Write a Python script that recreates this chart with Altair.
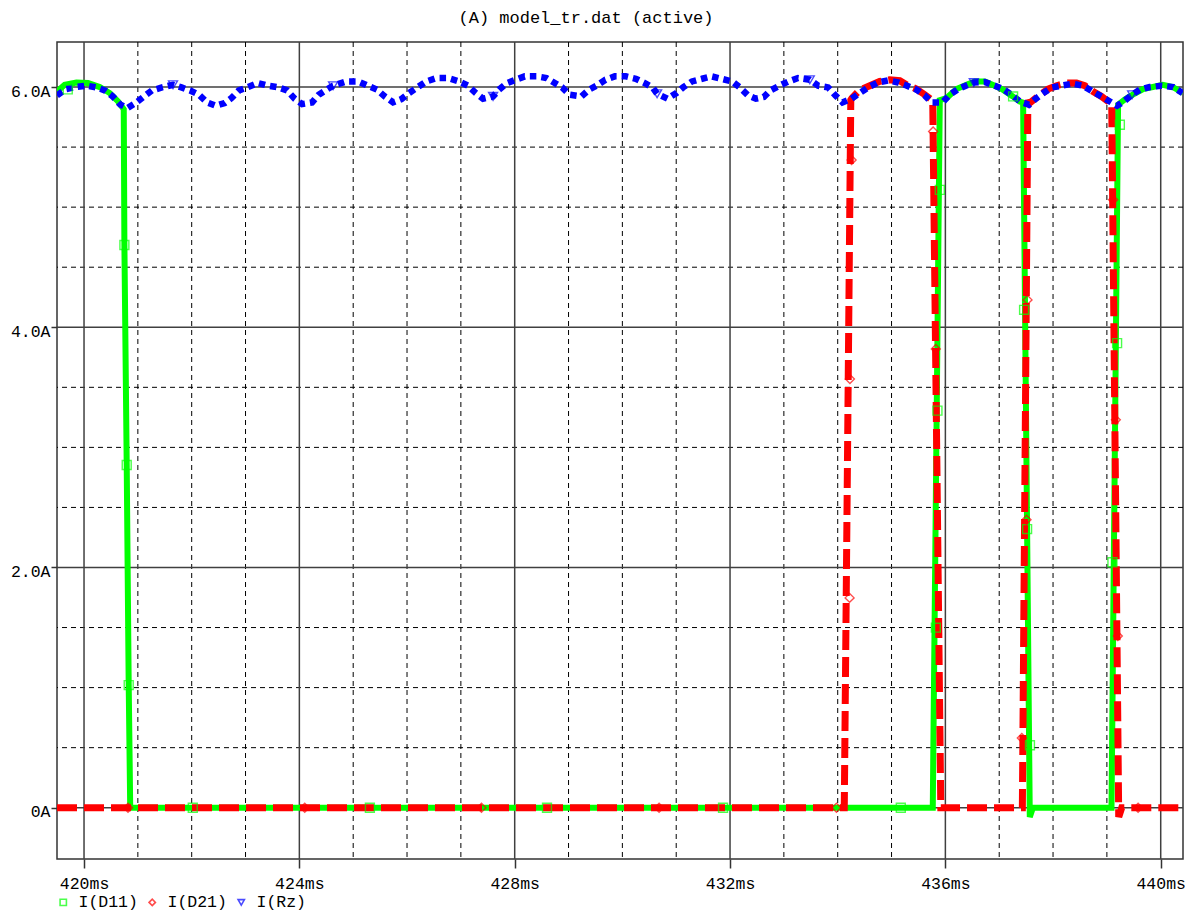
import altair as alt
import pandas as pd

FONT = "Liberation Mono"

# ---- grid / tick positions ----
x_major = [420, 424, 428, 432, 436, 440]
x_minor = [421, 422, 423, 425, 426, 427, 429, 430, 431, 433, 434, 435, 437, 438, 439]
y_major = [0, 2, 4, 6]
y_minor = [0.5, 1, 1.5, 2.5, 3, 3.5, 4.5, 5, 5.5]

# ---- I(Rz) (blue) ----
rz_t = [419.498, 419.660, 419.846, 420.056, 420.230, 420.385, 420.533, 420.676, 420.806, 420.973,
        421.115, 421.263, 421.449, 421.653, 421.809, 421.982, 422.136, 422.285, 422.447, 422.614,
        422.738, 422.879, 423.047, 423.232, 423.418, 423.611, 423.771, 423.914, 424.050, 424.236,
        424.360, 424.522, 424.626, 424.875, 425.090, 425.276, 425.443, 425.586, 425.740, 425.896,
        426.038, 426.175, 426.361, 426.547, 426.762, 426.966, 427.134, 427.277, 427.412, 427.598,
        427.709, 427.858, 428.020, 428.187, 428.404, 428.590, 428.744, 428.880, 429.023, 429.240,
        429.381, 429.519, 429.686, 429.859, 430.063, 430.249, 430.416, 430.570, 430.645, 430.838,
        431.005, 431.128, 431.295, 431.481, 431.655, 431.841, 432.038, 432.181, 432.335, 432.478,
        432.627, 432.751, 432.924, 433.091, 433.264, 433.481, 433.636, 433.821, 433.959, 434.089,
        434.256, 434.410, 434.578, 434.750, 434.936, 435.122, 435.289, 435.464, 435.618, 435.742,
        435.947, 436.082, 436.236, 436.379, 436.528, 436.732, 436.918, 437.072, 437.228, 437.382,
        437.555, 437.693, 437.834, 437.983, 438.176, 438.361, 438.558, 438.733, 438.900, 439.054,
        439.190, 439.314, 439.469, 439.612, 439.797, 440.015, 440.230, 440.405]
rz_a = [5.930, 5.983, 6.000, 6.011, 5.997, 5.972, 5.922, 5.853, 5.825, 5.872,
        5.922, 5.972, 5.997, 6.019, 5.997, 5.969, 5.936, 5.872, 5.844, 5.867,
        5.908, 5.972, 6.000, 6.033, 6.011, 5.997, 5.972, 5.903, 5.858, 5.872,
        5.936, 5.983, 6.011, 6.047, 6.047, 6.011, 5.978, 5.922, 5.872, 5.900,
        5.950, 5.992, 6.047, 6.075, 6.075, 6.047, 6.011, 5.950, 5.903, 5.922,
        5.978, 6.033, 6.061, 6.089, 6.089, 6.075, 6.033, 5.997, 5.936, 5.922,
        5.978, 6.011, 6.061, 6.089, 6.089, 6.069, 6.033, 5.992, 5.944, 5.903,
        5.950, 5.997, 6.047, 6.069, 6.089, 6.069, 6.047, 5.997, 5.930, 5.903,
        5.917, 5.972, 6.013, 6.047, 6.075, 6.061, 6.011, 5.997, 5.930, 5.872,
        5.903, 5.950, 6.000, 6.038, 6.055, 6.038, 6.011, 5.978, 5.930, 5.872,
        5.872, 5.936, 5.983, 6.011, 6.038, 6.042, 6.011, 5.983, 5.936, 5.880,
        5.853, 5.908, 5.955, 5.997, 6.013, 6.028, 6.011, 5.963, 5.922, 5.880,
        5.844, 5.880, 5.936, 5.978, 6.000, 6.011, 6.000, 5.950]

# ---- I(D11) (green) ----
d11_t = [419.498, 419.641, 419.859, 420.074, 420.292, 420.477, 420.632, 420.738, 420.750, 420.793,
         420.830, 420.858, 435.766, 435.896, 436.021, 436.207, 436.393, 436.547, 436.733, 436.918,
         437.067, 437.253, 437.382, 437.444, 437.568, 437.625, 439.086, 439.208, 439.333, 439.481,
         439.673, 439.853, 440.039, 440.225, 440.411]
d11_a = [5.963, 6.019, 6.038, 6.033, 6.000, 5.950, 5.880, 5.815, 4.685, 2.853,
         1.021, 0.0, 0.0, 5.890, 5.908, 5.983, 6.019, 6.047, 6.047, 6.011,
         5.978, 5.922, 5.880, 5.870, -0.077, 0.0, 0.0, 5.853, 5.897, 5.936,
         5.983, 6.000, 6.019, 6.000, 5.950]

# ---- I(D21) (red) ----
d21_t = [419.498, 434.122, 434.243, 434.265, 434.410, 434.596, 434.781, 434.967, 435.153, 435.278,
         435.464, 435.618, 435.742, 435.766, 435.915, 437.430, 437.532, 437.562, 437.722, 437.908,
         438.064, 438.250, 438.436, 438.590, 438.744, 438.900, 439.023, 439.090, 439.220, 439.276,
         440.414]
d21_a = [0.0, 0.0, 5.892, 5.908, 5.975, 6.011, 6.047, 6.061, 6.053, 6.019,
         5.983, 5.936, 5.894, 5.853, 0.0, 0.0, 5.892, 5.866, 5.922, 5.983,
         6.011, 6.033, 6.033, 6.011, 5.963, 5.922, 5.880, 5.861, -0.077, 0.0,
         0.0]

# ---- marker samples ----
d11_mt = [419.698, 420.750, 420.793, 420.830, 422.020, 425.310, 428.600, 431.870, 435.172, 435.823,
          435.853, 435.897, 437.258, 437.462, 437.518, 437.571, 439.103, 439.190, 439.241]
d11_ma = [5.980, 4.685, 2.853, 1.021, 0.0, 0.0, 0.0, 0.0, 0.0, 1.499,
          3.306, 5.144, 5.922, 4.145, 2.320, 0.520, 2.044, 3.868, 5.686]
d21_mt = [420.817, 424.100, 427.383, 430.682, 433.977, 434.221, 434.227, 434.258, 435.772, 435.822,
          437.420, 437.507, 437.526, 439.116, 439.166, 439.203, 439.580]
d21_ma = [0.0, 0.0, 0.0, 0.0, 0.0, 1.747, 3.570, 5.393, 5.630, 3.820,
          0.581, 2.397, 4.228, 5.061, 3.229, 1.430, 0.0]
rz_mt = [421.653, 424.626, 427.598, 430.645, 433.481, 436.528, 439.469]
rz_ma = [6.019, 6.011, 5.922, 5.944, 6.061, 6.038, 5.936]

series_names = ["I(D11)", "I(D21)", "I(Rz)"]
series_colors = ["#00ff00", "#ff0000", "#0000ff"]
series_shapes = ["square", "diamond", "triangle-down"]

X_DOMAIN = [419.498, 440.414]
Y_DOMAIN = [-0.427, 6.375]

xs = alt.Scale(domain=X_DOMAIN, nice=False, zero=False)
ys = alt.Scale(domain=Y_DOMAIN, nice=False, zero=False)

x_axis = alt.Axis(values=x_major, labelExpr="datum.value + 'ms'", tickSize=9, tickColor="#333333",
                  tickWidth=1.5, grid=False, domain=False, labelFont=FONT, labelFontSize=16.5,
                  labelColor="black", labelPadding=7, labelBaseline="top", title=None)
y_axis = alt.Axis(values=y_major,
                  labelExpr="datum.value == 0 ? '0A' : format(datum.value, '.1f') + 'A'",
                  tickSize=6, tickColor="#333333", tickWidth=1.5, grid=False, domain=False,
                  labelFont=FONT, labelFontSize=16.5, labelColor="black", labelPadding=1,
                  labelBaseline="top", labelOffset=-4, title=None)

X = lambda f: alt.X(f"{f}:Q", scale=xs, axis=x_axis)
Y = lambda f: alt.Y(f"{f}:Q", scale=ys, axis=y_axis)


def line_df(t, a):
    return pd.DataFrame({"t": t, "a": a, "i": list(range(len(t)))})


minor_v = alt.Chart(pd.DataFrame({"t": x_minor})).mark_rule(
    color="black", strokeWidth=1, strokeDash=[5, 4]).encode(x=X("t"))
minor_h = alt.Chart(pd.DataFrame({"a": y_minor})).mark_rule(
    color="black", strokeWidth=1, strokeDash=[5, 4]).encode(y=Y("a"))
major_v = alt.Chart(pd.DataFrame({"t": x_major})).mark_rule(
    color="#404040", strokeWidth=1.5).encode(x=X("t"))
major_h = alt.Chart(pd.DataFrame({"a": y_major})).mark_rule(
    color="#404040", strokeWidth=1.5).encode(y=Y("a"))

green = alt.Chart(line_df(d11_t, d11_a)).mark_line(
    color="#00ff00", strokeWidth=6, clip=True).encode(x=X("t"), y=Y("a"), order="i:Q")
red = alt.Chart(line_df(d21_t, d21_a)).mark_line(
    color="#ff0000", strokeWidth=7, strokeDash=[20, 7], strokeCap="butt", clip=True).encode(
    x=X("t"), y=Y("a"), order="i:Q")
blue = alt.Chart(line_df(rz_t, rz_a)).mark_line(
    color="#0000ff", strokeWidth=6.5, strokeDash=[6.5, 5], strokeCap="butt", clip=True).encode(
    x=X("t"), y=Y("a"), order="i:Q")

markers_df = pd.concat([
    pd.DataFrame({"t": d11_mt, "a": d11_ma, "s": "I(D11)"}),
    pd.DataFrame({"t": d21_mt, "a": d21_ma, "s": "I(D21)"}),
    pd.DataFrame({"t": rz_mt, "a": rz_ma, "s": "I(Rz)"}),
], ignore_index=True)

leg = alt.Legend(orient="none", legendX=-2, legendY=852, direction="horizontal", title=None,
                 labelFont=FONT, labelFontSize=16.5, labelColor="black", symbolSize=40,
                 symbolStrokeWidth=1.6, labelOffset=7, columnPadding=6, padding=0)

markers = alt.Chart(markers_df).mark_point(filled=False, strokeWidth=1.4, size=80, clip=True).encode(
    x=X("t"), y=Y("a"),
    color=alt.Color("s:N", scale=alt.Scale(domain=series_names, range=series_colors), legend=leg),
    shape=alt.Shape("s:N", scale=alt.Scale(domain=series_names, range=series_shapes), legend=leg),
)

chart = alt.layer(minor_v, minor_h, major_v, major_h, green, red, blue, markers).properties(
    width=1126, height=817,
    autosize=alt.AutoSizeParams(type="none"),
    padding={"left": 57, "top": 42, "right": 13, "bottom": 56},
    title=alt.TitleParams(text="(A) model_tr.dat (active)", font=FONT, fontSize=17,
                          fontWeight="normal", color="black", anchor="middle", dx=-34, offset=14),
    background="white",
).configure_view(stroke="#333333", strokeWidth=1.5)

chart.save("out.html", embed_options={"renderer": "svg", "actions": False})
